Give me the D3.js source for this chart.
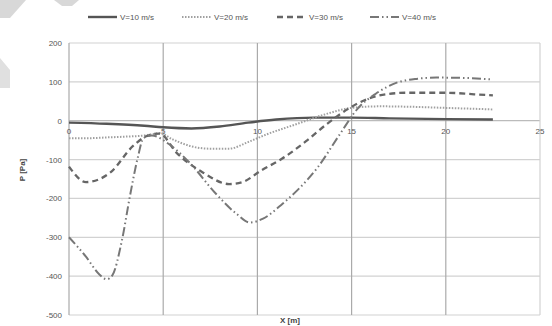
<!DOCTYPE html>
<html>
<head>
<meta charset="utf-8">
<script src="https://cdnjs.cloudflare.com/ajax/libs/d3/7.8.5/d3.min.js"></script>
<style>
  body { margin: 0; background: #fff; }
  svg { display: block; font-family: "Liberation Sans", Arial, sans-serif; }
</style>
</head>
<body>
<div class="container"></div>
<script>
// pressure along x, one array per wind speed: [x (m), P (Pa)]
const v10 = [[0,-5],[2,-8],[4,-13],[5,-17],[6.5,-20],[8,-15],[9.5,-5],[11,3],[13,8],[15,8],[17,6],[20,4],[22.5,3]];
const v20 = [[0,-45],[1,-45],[2,-43],[3,-41],[4,-38],[4.8,-32],[5.5,-48],[6.5,-66],[7.5,-72],[8.5,-72],[9.5,-55],[10.5,-35],[12,-10],[13.5,15],[15,33],[16.5,37],[18,36],[20,33],[22.5,29]];
const v30 = [[0,-118],[0.9,-158],[2.2,-133],[3.4,-65],[4.1,-40],[4.8,-33],[5.7,-82],[7.1,-133],[8.5,-163],[9.2,-158],[10.2,-128],[11.3,-98],[12.6,-52],[13.7,-8],[14.8,30],[15.8,55],[16.8,68],[18,72],[20,72],[21.5,68],[22.5,65]];
const v40 = [[0,-300],[0.9,-350],[1.6,-395],[2.0,-408],[2.3,-398],[2.8,-310],[3.25,-190],[3.65,-95],[3.95,-45],[4.4,-38],[5.3,-60],[6.4,-108],[7.8,-188],[8.9,-240],[9.6,-262],[10.3,-252],[11.35,-213],[12.1,-180],[13.2,-120],[14.4,-33],[15.3,30],[16.3,70],[17.4,98],[18.5,108],[19.5,111],[21,110],[22.5,106]];

const series = [
  {name: 'V=10 m/s', values: v10},
  {name: 'V=20 m/s', values: v20},
  {name: 'V=30 m/s', values: v30},
  {name: 'V=40 m/s', values: v40}
];
const xTicks = [0, 5, 10, 15, 20, 25];
const yTicks = [200, 100, 0, -100, -200, -300, -400, -500];

const styles = [
  {stroke: '#555', width: 2.4, dash: null},
  {stroke: '#a0a0a0', width: 2, dash: '1.5,1.5'},
  {stroke: '#666', width: 2.3, dash: '6,4'},
  {stroke: '#777', width: 2, dash: '9,3,1.5,3,1.5,3'}
];

const width = 552, height = 326;
const plotLeft = 69, plotRight = 540, plotTop = 43, plotBottom = 315;

const svg = d3.select('.container').append('svg')
  .attr('width', width)
  .attr('height', height);

// faint watermark shapes in the corner
svg.append('path').attr('d', 'M0,0 L26,0 L10,18 L0,18 Z').attr('fill', '#d8d8d8');
svg.append('path').attr('d', 'M54,0 L79,0 L72,6 L62,6 Z').attr('fill', '#d8d8d8');
svg.append('path').attr('d', 'M0,58 L10,70 L10,88 L0,88 Z').attr('fill', '#e0e0e0');

const x = d3.scaleLinear().domain([0, 25]).range([plotLeft, plotRight]);
const y = d3.scaleLinear().domain([-500, 200]).range([plotBottom, plotTop]);

// horizontal grid
svg.append('g')
  .selectAll('line')
  .data(yTicks)
  .enter()
  .append('line')
  .attr('x1', plotLeft).attr('x2', plotRight)
  .attr('y1', d => y(d)).attr('y2', d => y(d))
  .attr('stroke', d => d === 0 ? '#bbb' : '#d2d2d2')
  .attr('stroke-width', 1.2);

// vertical grid
svg.append('g')
  .selectAll('line')
  .data(xTicks)
  .enter()
  .append('line')
  .attr('x1', d => x(d)).attr('x2', d => x(d))
  .attr('y1', plotTop).attr('y2', plotBottom)
  .attr('stroke', d => d === 25 ? '#d2d2d2' : '#aaa')
  .attr('stroke-width', 1.2);

// y tick labels
svg.append('g')
  .selectAll('text')
  .data(yTicks)
  .enter()
  .append('text')
  .attr('x', plotLeft - 7)
  .attr('y', d => y(d) + 3)
  .attr('text-anchor', 'end')
  .attr('font-size', 8)
  .attr('fill', '#555')
  .text(d => d);

// x tick labels sit on the zero line
svg.append('g')
  .selectAll('text')
  .data(xTicks)
  .enter()
  .append('text')
  .attr('x', d => x(d))
  .attr('y', y(0) + 13)
  .attr('text-anchor', 'middle')
  .attr('font-size', 8)
  .attr('fill', '#555')
  .text(d => d);

const line = d3.line()
  .x(d => x(d[0]))
  .y(d => y(d[1]))
  .curve(d3.curveMonotoneX);

svg.append('g')
  .selectAll('path')
  .data(series)
  .enter()
  .append('path')
  .attr('d', d => line(d.values))
  .attr('fill', 'none')
  .attr('stroke', (d, i) => styles[i].stroke)
  .attr('stroke-width', (d, i) => styles[i].width)
  .attr('stroke-dasharray', (d, i) => styles[i].dash);

// legend
const legendX = [88, 182, 277, 370];
const legend = svg.append('g')
  .selectAll('g')
  .data(series)
  .enter()
  .append('g')
  .attr('transform', (d, i) => `translate(${legendX[i]},17)`);

legend.append('line')
  .attr('x1', 0).attr('x2', 29)
  .attr('stroke', (d, i) => styles[i].stroke)
  .attr('stroke-width', (d, i) => styles[i].width)
  .attr('stroke-dasharray', (d, i) => styles[i].dash);

legend.append('text')
  .attr('x', 32)
  .attr('y', 3)
  .attr('font-size', 8)
  .attr('fill', '#555')
  .text(d => d.name);

// axis titles
svg.append('text')
  .attr('transform', 'translate(25,170) rotate(-90)')
  .attr('text-anchor', 'middle')
  .attr('font-size', 8)
  .attr('font-weight', 'bold')
  .attr('fill', '#444')
  .text('P [Pa]');

svg.append('text')
  .attr('x', 290)
  .attr('y', 323)
  .attr('text-anchor', 'middle')
  .attr('font-size', 8)
  .attr('font-weight', 'bold')
  .attr('fill', '#444')
  .text('X [m]');
</script>
</body>
</html>
